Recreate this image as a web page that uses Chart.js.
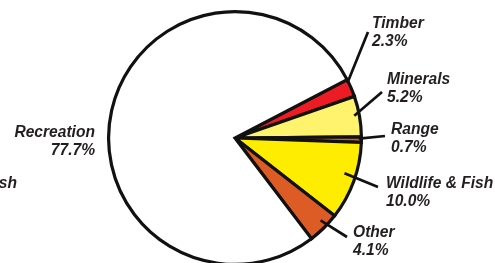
<!DOCTYPE html>
<html>
<head>
<meta charset="utf-8">
<script src="https://cdn.jsdelivr.net/npm/chart.js@4/dist/chart.umd.min.js"></script>
<style>
html,body{margin:0;padding:0;background:#fff;}
#wrap{width:495px;height:263px;overflow:hidden;position:relative;}
canvas{display:block;}
</style>
</head>
<body>
<div id="wrap"><canvas id="c" width="495" height="300"></canvas></div>
<script>
const categories = ['Timber', 'Minerals', 'Range', 'Wildlife & Fish', 'Other', 'Recreation'];
const shares = [2.3, 5.2, 0.7, 10.0, 4.1, 77.7];
const percentLabels = ['2.3%', '5.2%', '0.7%', '10.0%', '4.1%', '77.7%'];
const sliceColors = ['#ED1C24', '#FFF36E', '#D95B27', '#FFED00', '#DD5C26', '#FFFFFF'];

// label layout: text anchor (x, first baseline), alignment, leader start (fraction of slice angle, radius fraction), leader end
const labelLayout = [
  {x: 372, y: 28, align: 'left', t: 0.17, rf: 0.99, end: [368, 32]},
  {x: 387, y: 84, align: 'left', t: 0.46, rf: 0.96, end: [382, 92]},
  {x: 391, y: 134, align: 'left', t: 0.3, rf: 0.98, end: [385, 136]},
  {x: 386, y: 188, align: 'left', t: 0.44, rf: 0.91, end: [378, 187]},
  {x: 353, y: 237, align: 'left', t: 0.4, rf: 0.94, end: [347, 237]},
  {x: 95, y: 137, align: 'right', t: null}
];

const labelPlugin = {
  id: 'pieLabels',
  afterDraw(chart) {
    const ctx = chart.ctx;
    const meta = chart.getDatasetMeta(0);
    ctx.save();
    ctx.font = 'italic bold 15.6px "Liberation Sans", Arial, sans-serif';
    ctx.fillStyle = '#231F20';
    ctx.strokeStyle = '#111';
    ctx.lineWidth = 2.7;
    ctx.textBaseline = 'alphabetic';
    const lineGap = 18;
    meta.data.forEach((arc, i) => {
      const L = labelLayout[i];
      if (L.t !== null) {
        const p = arc.getProps(['x', 'y', 'startAngle', 'endAngle', 'outerRadius'], true);
        const a = p.startAngle + (p.endAngle - p.startAngle) * L.t;
        const r = p.outerRadius * L.rf;
        ctx.beginPath();
        ctx.moveTo(p.x + Math.cos(a) * r, p.y + Math.sin(a) * r);
        ctx.lineTo(L.end[0], L.end[1]);
        ctx.stroke();
      }
      ctx.textAlign = L.align;
      ctx.fillText(categories[i], L.x, L.y);
      ctx.fillText(percentLabels[i], L.x, L.y + lineGap);
    });
    // clipped fragment of a label at far left edge
    ctx.textAlign = 'right';
    ctx.fillText(categories[3], 17, 188);
    ctx.restore();
  }
};

new Chart(document.getElementById('c'), {
  type: 'pie',
  data: {
    labels: categories,
    datasets: [{
      data: shares,
      backgroundColor: sliceColors,
      borderColor: '#111111',
      borderWidth: 3.2,
      borderJoinStyle: 'miter',
      hoverOffset: 0
    }]
  },
  options: {
    responsive: false,
    animation: false,
    rotation: 62.5,
    layout: {padding: {left: 0, right: 25, top: 10, bottom: 34}},
    plugins: {legend: {display: false}, tooltip: {enabled: false}}
  },
  plugins: [labelPlugin]
});
</script>
</body>
</html>
